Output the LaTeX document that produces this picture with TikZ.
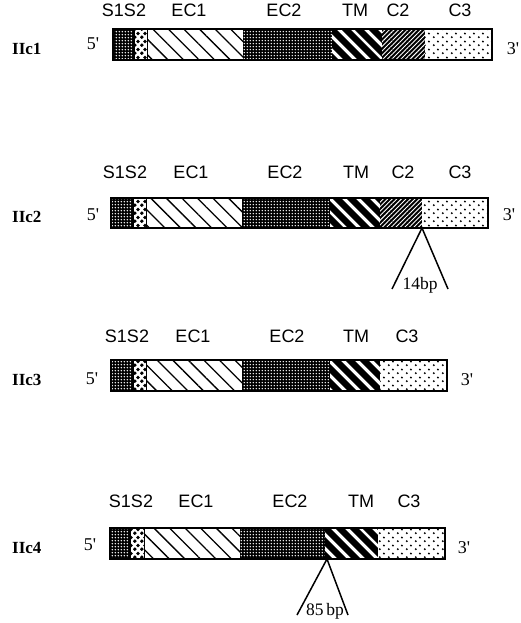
\documentclass[tikz,border=0pt]{standalone}
\usepackage{fontspec}
\setmainfont{Liberation Serif}
\setsansfont{Liberation Sans}
\usetikzlibrary{patterns,patterns.meta}

\pgfdeclarepatternformonly{wdots}{\pgfqpoint{0pt}{0pt}}{\pgfqpoint{3.2pt}{3.2pt}}{\pgfqpoint{3.2pt}{3.2pt}}{%
  \pgfpathcircle{\pgfqpoint{1.6pt}{1.6pt}}{0.95pt}\pgfusepath{fill}}
\pgfdeclarepatternformonly{stagdots}{\pgfqpoint{0pt}{0pt}}{\pgfqpoint{9pt}{8pt}}{\pgfqpoint{9pt}{8pt}}{%
  \pgfpathcircle{\pgfqpoint{2pt}{2pt}}{1.2pt}\pgfpathcircle{\pgfqpoint{6.5pt}{6pt}}{1.2pt}\pgfusepath{fill}}
\pgfdeclarepatternformonly{blobs}{\pgfqpoint{0pt}{0pt}}{\pgfqpoint{7pt}{8pt}}{\pgfqpoint{7pt}{8pt}}{%
  \pgfpathcircle{\pgfqpoint{2pt}{2pt}}{2.1pt}\pgfpathcircle{\pgfqpoint{5.5pt}{6pt}}{2.1pt}\pgfusepath{fill}}

\newcommand{\pr}{\textquotesingle}

\tikzset{
  darkdots/.style={fill=black, postaction={pattern=wdots, pattern color=white}},
  s2seg/.style={fill=white, postaction={pattern=blobs, pattern color=black}},
  s2edge/.style={draw=black, line width=1.4pt},
  ec1seg/.style={fill=white, postaction={pattern={Lines[angle=-45,distance=11pt,line width=1.3pt]}, pattern color=black}},
  tmseg/.style={fill=black, postaction={pattern={Lines[angle=-45,distance=10.5pt,line width=3.6pt]}, pattern color=white}},
  c2seg/.style={fill=black, postaction={pattern={Lines[angle=45,distance=3.2pt,line width=0.9pt]}, pattern color=white}},
  c3seg/.style={fill=white, postaction={pattern=stagdots, pattern color=black}},
  outline/.style={draw=black, line width=1.7pt},
  seglab/.style={font=\sffamily\fontsize{18}{18}\selectfont, anchor=base, inner sep=0pt},
  rowlab/.style={font=\bfseries\fontsize{17}{17}\selectfont, anchor=base west, inner sep=0pt},
  endlab/.style={font=\fontsize{18}{18}\selectfont, anchor=base, inner sep=0pt},
  bplab/.style={font=\fontsize{17.5}{17.5}\selectfont, anchor=base, inner sep=0pt},
  insline/.style={line width=1.5pt}
}

\begin{document}
\begin{tikzpicture}[x=1pt,y=1pt]
\useasboundingbox (0,0) rectangle (520,-623);

% ---------- Row 1: IIc1 ----------
\path[darkdots] (113,-29) rectangle (134,-60);
\path[s2seg]    (134,-29) rectangle (148,-60);
\draw[s2edge] (134,-29) -- (134,-60) (148,-29) -- (148,-60);
\path[ec1seg]   (148,-29) rectangle (243,-60);
\path[darkdots] (243,-29) rectangle (332,-60);
\path[tmseg]    (332,-29) rectangle (382,-60);
\path[c2seg]    (382,-29) rectangle (425,-60);
\path[c3seg]    (425,-29) rectangle (492,-60);
\draw[outline]  (113,-29) rectangle (492,-60);
\node[seglab] (r1a) at (124,-17) {S1S2};
\node[seglab] (r1b) at (189,-17) {EC1};
\node[seglab] (r1c) at (284,-17) {EC2};
\node[seglab] (r1d) at (355,-17) {TM};
\node[seglab] (r1e) at (398,-17) {C2};
\node[seglab] (r1f) at (460,-17) {C3};
\node[rowlab] (r1n) at (12,-55) {IIc1};
\node[endlab] (r1five) at (93,-50) {5\pr};
\node[endlab] (r1three) at (513,-55) {3\pr};

% ---------- Row 2: IIc2 ----------
\path[darkdots] (111,-198) rectangle (133,-228);
\path[s2seg]    (133,-198) rectangle (147,-228);
\draw[s2edge] (133,-198) -- (133,-228) (147,-198) -- (147,-228);
\path[ec1seg]   (147,-198) rectangle (242,-228);
\path[darkdots] (242,-198) rectangle (330,-228);
\path[tmseg]    (330,-198) rectangle (380,-228);
\path[c2seg]    (380,-198) rectangle (422,-228);
\path[c3seg]    (422,-198) rectangle (488,-228);
\draw[outline]  (111,-198) rectangle (488,-228);
\node[seglab] (r2a) at (125,-178) {S1S2};
\node[seglab] (r2b) at (191,-178) {EC1};
\node[seglab] (r2c) at (285,-178) {EC2};
\node[seglab] (r2d) at (356,-178) {TM};
\node[seglab] (r2e) at (403,-178) {C2};
\node[seglab] (r2f) at (460,-178) {C3};
\node[rowlab] (r2n) at (12,-222) {IIc2};
\node[endlab] (r2five) at (93,-220) {5\pr};
\node[endlab] (r2three) at (509,-220) {3\pr};
\coordinate (a2) at (422,-228);
\coordinate (l2) at (392,-289);
\coordinate (rr2) at (448,-289);
\draw[insline] (l2) -- (a2) -- (rr2);
\node[bplab] (bp2) at (420,-289) {14bp};

% ---------- Row 3: IIc3 ----------
\path[darkdots] (111,-360) rectangle (133,-391);
\path[s2seg]    (133,-360) rectangle (147,-391);
\draw[s2edge] (133,-360) -- (133,-391) (147,-360) -- (147,-391);
\path[ec1seg]   (147,-360) rectangle (242,-391);
\path[darkdots] (242,-360) rectangle (330,-391);
\path[tmseg]    (330,-360) rectangle (380,-391);
\path[c3seg]    (380,-360) rectangle (447,-391);
\draw[outline]  (111,-360) rectangle (447,-391);
\node[seglab] (r3a) at (127,-342) {S1S2};
\node[seglab] (r3b) at (193,-342) {EC1};
\node[seglab] (r3c) at (287,-342) {EC2};
\node[seglab] (r3d) at (356,-342) {TM};
\node[seglab] (r3e) at (407,-342) {C3};
\node[rowlab] (r3n) at (12,-385) {IIc3};
\node[endlab] (r3five) at (92,-384) {5\pr};
\node[endlab] (r3three) at (467,-385) {3\pr};

% ---------- Row 4: IIc4 ----------
\path[darkdots] (110,-528) rectangle (130,-559);
\path[s2seg]    (130,-528) rectangle (145,-559);
\draw[s2edge] (130,-528) -- (130,-559) (145,-528) -- (145,-559);
\path[ec1seg]   (145,-528) rectangle (240,-559);
\path[darkdots] (240,-528) rectangle (325,-559);
\path[tmseg]    (325,-528) rectangle (378,-559);
\path[c3seg]    (378,-528) rectangle (445,-559);
\draw[outline]  (110,-528) rectangle (445,-559);
\node[seglab] (r4a) at (131,-507) {S1S2};
\node[seglab] (r4b) at (196,-507) {EC1};
\node[seglab] (r4c) at (290,-507) {EC2};
\node[seglab] (r4d) at (361,-507) {TM};
\node[seglab] (r4e) at (409,-507) {C3};
\node[rowlab] (r4n) at (12,-553) {IIc4};
\node[endlab] (r4five) at (90,-550) {5\pr};
\node[endlab] (r4three) at (464,-553) {3\pr};
\coordinate (a4) at (327,-559);
\coordinate (l4) at (297,-615);
\coordinate (rr4) at (348,-615);
\draw[insline] (l4) -- (a4) -- (rr4);
\node[bplab] (bp4) at (325,-615) {85\,bp};
\end{tikzpicture}
\end{document}
